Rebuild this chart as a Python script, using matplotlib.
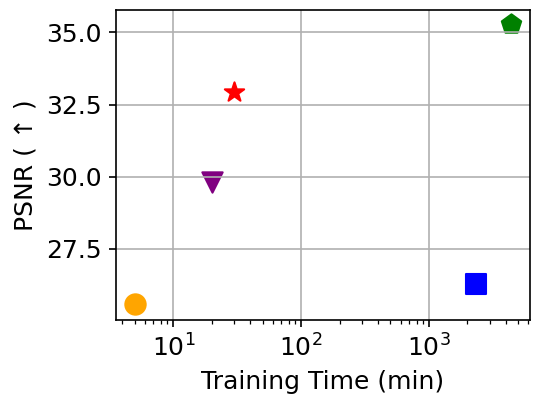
import matplotlib
matplotlib.use("Agg")
import matplotlib.pyplot as plt

methods = ["A", "B", "C", "D", "E"]
train_time = [5, 20, 30, 2350, 4400]
psnr = [25.58, 29.8, 32.93, 26.27, 35.30]
colors = ["orange", "purple", "red", "blue", "green"]
markers = ["o", "v", "*", "s", "p"]

DPI = 150
plt.rcParams["font.size"] = 12
fig = plt.figure(figsize=(538/DPI, 403/DPI), dpi=DPI)
ax = fig.add_axes([116/538, 1-320/403, (530-116)/538, (320-10)/403])

for t, p, c, m in zip(train_time, psnr, colors, markers):
    ax.scatter(t, p, color=c, marker=m, s=95)

ax.set_xscale("log")
ax.set_ylim(25.03, 35.78)
ax.set_yticks([27.5, 30.0, 32.5, 35.0])
ax.grid(True)
ax.set_xlabel("Training Time (min)")
ax.set_ylabel("PSNR ( ↑ )")

fig.savefig("out.png", dpi=DPI)
